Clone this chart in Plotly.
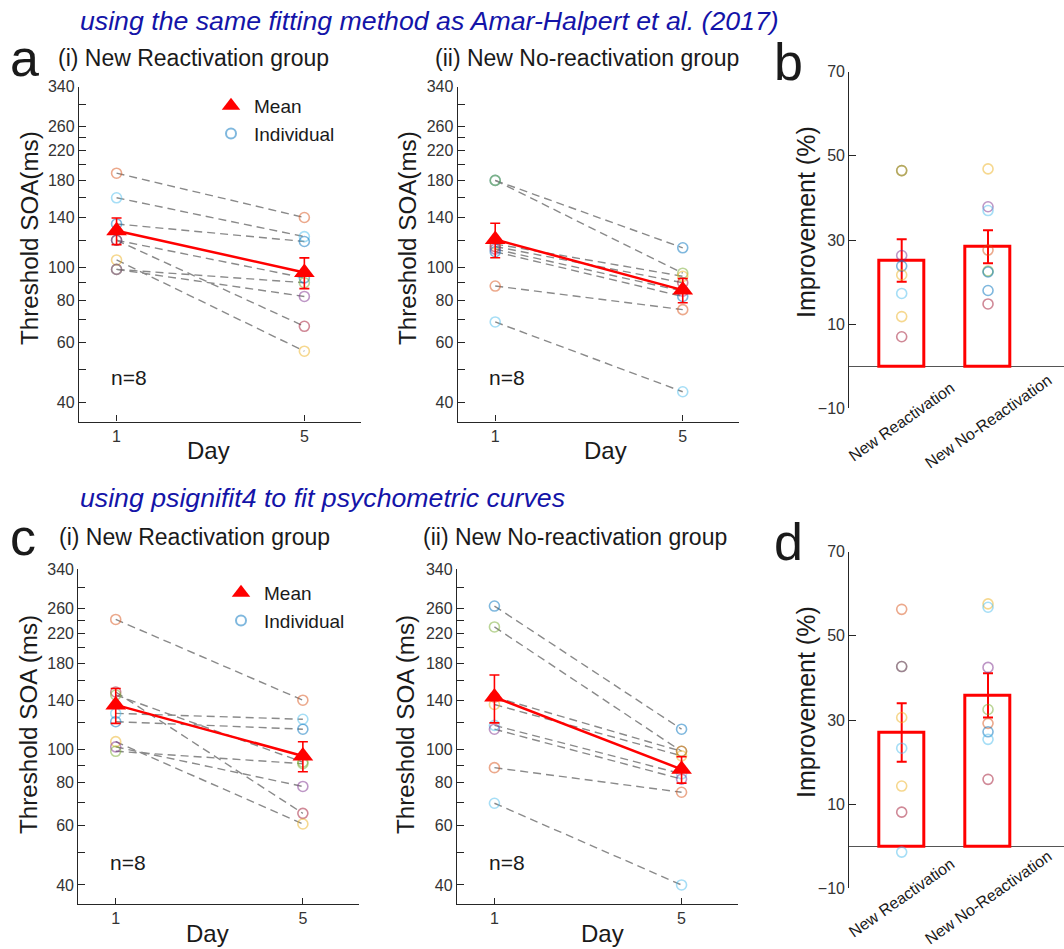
import math
import plotly.graph_objects as go

W, H = 1064, 949
def px(x):
    return x / W
def py(y):
    return 1 - y / H

# ---------------- data ----------------
days = [1, 5]

# (a) same fitting method as Amar-Halpert et al. (2017)
a1_day1 = [189, 160, 134, 120, 120, 105, 98.5, 98.5]
a1_day5 = [140, 123, 119, 93, 67, 56.6, 90, 82]
a1_mean = [128, 96.5]
a1_sem = [11.5, 10]

a2_day1 = [180, 180, 117, 115, 113, 111, 88, 69]
a2_day5 = [114, 96, 94, 90, 85, 82, 75, 43]
a2_mean = [120.6, 85.6]
a2_sem = [14, 7]

# (c) psignifit4
c1_day1 = [242, 148, 145, 128, 121, 105.7, 102, 99]
c1_day5 = [140, 65, 92, 123, 115, 60.5, 78, 91]
c1_mean = [135.6, 95.9]
c1_sem = [16, 9.7]

c2_day1 = [265, 230, 143, 136, 118, 115, 88.6, 69.6]
c2_day5 = [115, 99, 99, 96, 85, 82, 75, 40]
c2_mean = [143, 87.6]
c2_sem = [23, 7.8]

# (b), (d) improvement (%)
bar_cats = ["New Reactivation", "New No-Reactivation"]
b_means = [25.15, 28.4]
b_sem = [5.05, 3.9]
b_ind_react = [46.5, 46.5, 26.3, 23.8, 21.7, 17.3, 11.8, 7.0]
b_ind_noreact = [46.9, 37.9, 37.0, 27.6, 22.6, 22.4, 18.0, 14.8]

d_means = [27.05, 35.85]
d_sem = [6.95, 5.25]
d_ind_react = [56.3, 42.7, 42.7, 30.6, 23.3, 14.3, 8.1, -1.4]
d_ind_noreact = [57.6, 56.8, 42.5, 32.5, 29.2, 27.2, 25.4, 15.9]

y_tickvals = [40, 50, 60, 70, 80, 90, 100, 120, 140, 160, 180, 200, 220, 240, 260, 300, 340]
y_ticklabels = ["40", "", "60", "", "80", "", "100", "", "140", "", "180", "", "220", "", "260", "", "340"]

# ---------------- styles ----------------
PAL = {
    "blue": "rgba(0,114,189,0.5)",
    "orange": "rgba(217,83,25,0.5)",
    "yellow": "rgba(237,177,32,0.5)",
    "purple": "rgba(126,47,142,0.5)",
    "green": "rgba(119,172,48,0.5)",
    "lightblue": "rgba(77,190,238,0.5)",
    "red": "rgba(162,20,47,0.5)",
}
a1_cols = ["orange", "lightblue", "blue", "blue", "red", "yellow", "green", "purple"]
a2_cols = ["blue", "green", "yellow", "red", "purple", "blue", "orange", "lightblue"]
c1_cols = ["orange", "red", "green", "lightblue", "blue", "yellow", "purple", "green"]
c2_cols = ["blue", "green", "orange", "yellow", "lightblue", "purple", "orange", "lightblue"]
b_cols_r = ["orange", "green", "purple", "blue", "yellow", "lightblue", "yellow", "red"]
b_cols_n = ["yellow", "purple", "lightblue", "orange", "green", "blue", "blue", "red"]
d_cols_r = ["orange", "green", "purple", "yellow", "lightblue", "yellow", "red", "lightblue"]
d_cols_n = ["yellow", "lightblue", "purple", "green", "orange", "blue", "lightblue", "red"]

FONT = "Liberation Sans, Arial, sans-serif"
AX = "#262626"
TXT = "#1a1a1a"

fig = go.Figure()


def add_line_panel(idx, d1, d5, cols, mean, sem):
    xa = "x" if idx == 1 else f"x{idx}"
    ya = "y" if idx == 1 else f"y{idx}"
    lx, ly = [], []
    for v1, v5 in zip(d1, d5):
        lx += [days[0], days[1], None]
        ly += [v1, v5, None]
    fig.add_trace(go.Scatter(x=lx, y=ly, mode="lines", xaxis=xa, yaxis=ya,
                             line=dict(color="#8a8a8a", width=1.4, dash="8px,5px"),
                             showlegend=False, hoverinfo="skip"))
    mx = [days[0]] * len(d1) + [days[1]] * len(d5)
    my = list(d1) + list(d5)
    mc = [PAL[c] for c in cols] * 2
    fig.add_trace(go.Scatter(x=mx, y=my, mode="markers", xaxis=xa, yaxis=ya,
                             marker=dict(symbol="circle-open", size=10, color=mc,
                                         line=dict(width=1.6)),
                             showlegend=False))
    fig.add_trace(go.Scatter(x=days, y=mean, mode="lines+markers", xaxis=xa, yaxis=ya,
                             line=dict(color="#ff0000", width=2.5),
                             marker=dict(symbol="triangle-up", size=18, color="#ff0000"),
                             error_y=dict(type="data", array=sem, color="#ff0000",
                                          thickness=1.6, width=5),
                             showlegend=False))


def add_bar_panel(idx, means, sem, ind_r, ind_n, cols_r, cols_n):
    xa, ya = f"x{idx}", f"y{idx}"
    fig.add_trace(go.Bar(x=bar_cats, y=means, xaxis=xa, yaxis=ya, width=0.52,
                         marker=dict(color="rgba(0,0,0,0)",
                                     line=dict(color="#ff0000", width=3)),
                         showlegend=False))
    fig.add_trace(go.Scatter(x=bar_cats, y=means, mode="markers", xaxis=xa, yaxis=ya,
                             marker=dict(size=1, color="rgba(0,0,0,0)"),
                             error_y=dict(type="data", array=sem, color="#ff0000",
                                          thickness=2, width=5),
                             showlegend=False))
    xs = [bar_cats[0]] * len(ind_r) + [bar_cats[1]] * len(ind_n)
    ys = list(ind_r) + list(ind_n)
    cs = [PAL[c] for c in cols_r] + [PAL[c] for c in cols_n]
    fig.add_trace(go.Scatter(x=xs, y=ys, mode="markers", xaxis=xa, yaxis=ya,
                             marker=dict(symbol="circle-open", size=10, color=cs,
                                         line=dict(width=1.6)),
                             showlegend=False))


add_line_panel(1, a1_day1, a1_day5, a1_cols, a1_mean, a1_sem)
add_line_panel(2, a2_day1, a2_day5, a2_cols, a2_mean, a2_sem)
add_bar_panel(3, b_means, b_sem, b_ind_react, b_ind_noreact, b_cols_r, b_cols_n)
add_line_panel(4, c1_day1, c1_day5, c1_cols, c1_mean, c1_sem)
add_line_panel(5, c2_day1, c2_day5, c2_cols, c2_mean, c2_sem)
add_bar_panel(6, d_means, d_sem, d_ind_react, d_ind_noreact, d_cols_r, d_cols_n)

# legend entries (two legends: panel a(i) and panel c(i))
for leg, xa, ya in [("legend", "x", "y"), ("legend2", "x4", "y4")]:
    fig.add_trace(go.Scatter(x=[None], y=[None], mode="markers", name="Mean",
                             xaxis=xa, yaxis=ya, legend=leg,
                             marker=dict(symbol="triangle-up", size=16, color="#ff0000")))
    fig.add_trace(go.Scatter(x=[None], y=[None], mode="markers", name="Individual",
                             xaxis=xa, yaxis=ya, legend=leg,
                             marker=dict(symbol="circle-open", size=10, color=PAL["blue"],
                                         line=dict(width=2))))


def line_x(dom, anchor):
    return dict(domain=dom, anchor=anchor, range=[0.2, 6.2], tickmode="array",
                tickvals=days, ticktext=[str(d) for d in days], ticks="inside", ticklen=6,
                tickcolor=AX, showline=True, linecolor=AX, linewidth=1.3,
                showgrid=False, zeroline=False, automargin=False,
                tickfont=dict(size=16, color="#333", family=FONT))


def line_y(dom, anchor):
    return dict(domain=dom, anchor=anchor, type="log",
                range=[1.546, math.log10(340)], tickmode="array",
                tickvals=y_tickvals, ticktext=y_ticklabels, ticks="inside", ticklen=7,
                tickcolor=AX, showline=True, linecolor=AX, linewidth=1.3,
                showgrid=False, zeroline=False, automargin=False,
                tickfont=dict(size=16, color="#333", family=FONT))


def bar_x(dom, anchor):
    return dict(domain=dom, anchor=anchor, type="category", range=[-0.607, 1.88],
                showticklabels=False, ticks="", showline=False, showgrid=False,
                zeroline=False, automargin=False)


def bar_y(dom, anchor):
    return dict(domain=dom, anchor=anchor, range=[-10, 70], tickmode="array",
                tickvals=[-10, 10, 30, 50, 70], ticks="inside", ticklen=7,
                tickcolor=AX, showline=True, linecolor=AX, linewidth=1.3,
                showgrid=False, zeroline=True, zerolinecolor="#555555",
                zerolinewidth=1.2, automargin=False,
                tickfont=dict(size=16, color="#333", family=FONT))


ya_top = [py(421.5), py(86.5)]
yc_bot = [py(904), py(569.3)]

fig.update_layout(
    width=W, height=H, autosize=False,
    margin=dict(l=0, r=0, t=0, b=0, pad=0, autoexpand=False),
    paper_bgcolor="white", plot_bgcolor="white",
    font=dict(family=FONT, color=TXT),
    xaxis=line_x([px(79), px(360.7)], "y"),
    yaxis=line_y(ya_top, "x"),
    xaxis2=line_x([px(457.7), px(739)], "y2"),
    yaxis2=line_y(ya_top, "x2"),
    xaxis3=bar_x([px(849.3), 1.0], "y3"),
    yaxis3=bar_y([py(408.3), py(71.7)], "x3"),
    xaxis4=line_x([px(78.3), px(359)], "y4"),
    yaxis4=line_y(yc_bot, "x4"),
    xaxis5=line_x([px(457), px(737.7)], "y5"),
    yaxis5=line_y(yc_bot, "x5"),
    xaxis6=bar_x([px(849.3), 1.0], "y6"),
    yaxis6=bar_y([py(888.3), py(551.7)], "x6"),
    legend=dict(x=px(208), y=py(87), xanchor="left", yanchor="top",
                bgcolor="rgba(0,0,0,0)", font=dict(size=19, color=TXT, family=FONT),
                itemsizing="trace", itemwidth=36, tracegroupgap=0),
    legend2=dict(x=px(218), y=py(574), xanchor="left", yanchor="top",
                 bgcolor="rgba(0,0,0,0)", font=dict(size=19, color=TXT, family=FONT),
                 itemsizing="trace", itemwidth=36, tracegroupgap=0),
    showlegend=True,
    bargap=0,
)

ann = []
def text(x, y, s, size, color=TXT, xanchor="left", angle=0, italic=False, xref="paper"):
    ann.append(dict(x=x, y=y, xref=xref, yref="paper", text=s, showarrow=False,
                    xanchor=xanchor, yanchor="middle", textangle=angle,
                    font=dict(size=size, color=color, family=FONT,
                              style="italic" if italic else "normal")))

HDR = "#1414a8"
text(px(78), py(21), "using the same fitting method as Amar-Halpert et al. (2017)", 26.7, HDR, italic=True)
text(px(78), py(498), "using psignifit4 to fit psychometric curves", 26.7, HDR, italic=True)

text(px(8), py(58), "a", 52)
text(px(772), py(62), "b", 52)
text(px(8), py(537), "c", 52)
text(px(772), py(542), "d", 52)

text(px(56), py(58), "(i) New Reactivation group", 23)
text(px(433), py(58), "(ii) New No-reactivation group", 23)
text(px(57), py(537), "(i) New Reactivation group", 23)
text(px(421), py(537), "(ii) New No-reactivation group", 23)

text(px(29), py(238), "Threshold SOA(ms)", 24.2, xanchor="center", angle=-90)
text(px(407), py(238), "Threshold SOA(ms)", 24.2, xanchor="center", angle=-90)
text(px(28), py(725), "Threshold SOA (ms)", 24.2, xanchor="center", angle=-90)
text(px(405), py(725), "Threshold SOA (ms)", 24.2, xanchor="center", angle=-90)
text(px(806), py(222), "Improvement (%)", 25, xanchor="center", angle=-90)
text(px(806), py(702), "Improvement (%)", 25, xanchor="center", angle=-90)

text(px(208), py(450), "Day", 24, xanchor="center")
text(px(605), py(450), "Day", 24, xanchor="center")
text(px(207), py(933), "Day", 24, xanchor="center")
text(px(602), py(933), "Day", 24, xanchor="center")

text(px(109), py(377), "n=8", 21)
text(px(487), py(377), "n=8", 21)
text(px(108), py(862), "n=8", 21)
text(px(487), py(862), "n=8", 21)

for i, cat in enumerate(bar_cats):
    for xr, yc in [("x3", 421), ("x6", 897)]:
        ann.append(dict(x=i, y=py(yc), xref=xr, yref="paper", text=cat, showarrow=False,
                        xanchor="center", yanchor="middle", textangle=-35,
                        font=dict(size=16, color=TXT, family=FONT)))

fig.update_layout(annotations=ann)

PAGE_FIX = (
    "var gd=document.getElementById('{plot_id}');"
    "gd.style.position='fixed';gd.style.top='0px';gd.style.left='0px';"
    "var de=document.documentElement;de.style.margin='0px';de.style.padding='0px';"
    "de.style.overflow='hidden';de.style.height='949px';"
    "document.body.style.margin='0px';document.body.style.padding='0px';"
    "document.body.style.overflow='hidden';document.body.style.height='949px';"
)
fig.write_html("out.html", config={"displayModeBar": False}, post_script=PAGE_FIX)
